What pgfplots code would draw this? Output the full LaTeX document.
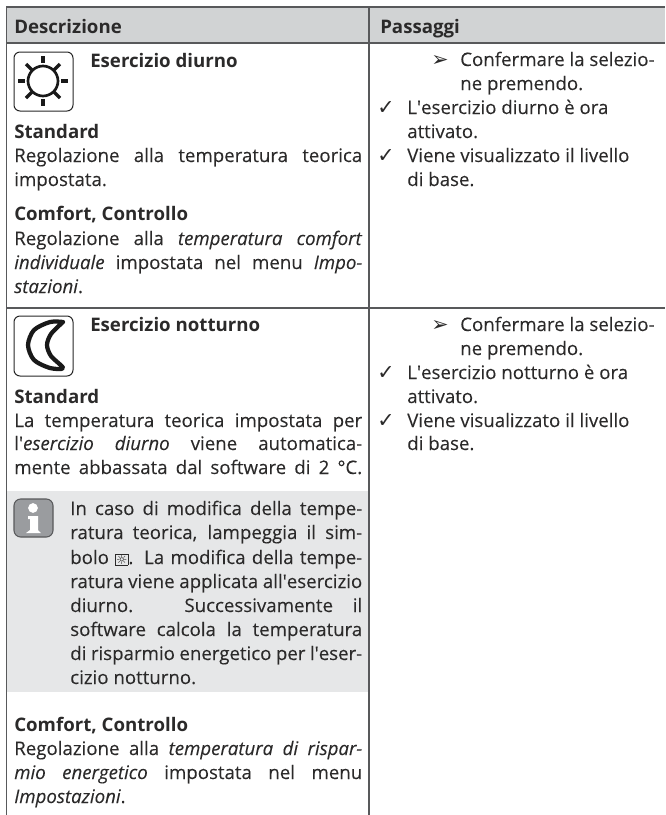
\documentclass[border=0pt]{standalone}
\usepackage{pgfplots}
\pgfplotsset{compat=1.18}
\usepackage{fontspec}
\setmainfont{Open Sans}[UprightFeatures={FakeBold=0.12},ItalicFeatures={FakeBold=0.12}]
\newfontfamily\sym{DejaVu Sans}
\newlength\px \setlength\px{0.75pt}
\definecolor{hdr}{HTML}{D1D3D4}
\definecolor{box}{HTML}{E6E7E8}
\definecolor{rule}{HTML}{58595B}
\definecolor{ink}{HTML}{2B2A2A}
\definecolor{ico}{HTML}{9A9C9F}
\newcommand\T[3]{\node[anchor=base west,inner sep=0pt,text=ink] at (axis cs:#1,#2) {#3};}
\newcommand\J[4]{\node[anchor=base west,inner sep=0pt,text=ink] at (axis cs:#1,#2) {\makebox[#3\px][s]{#4}};}
\newcommand\Q{\textquotesingle}
\newcommand\symb[1]{{\sym\fontsize{15.5pt}{16pt}\selectfont #1}}
\begin{document}
\fontsize{14pt}{16pt}\selectfont
\begin{tikzpicture}
\useasboundingbox (0,0) rectangle (498.75pt,611.25pt);
\begin{axis}[
  scale only axis, width=498.75pt, height=611.25pt,
  xmin=0,xmax=665,ymin=0,ymax=815,y dir=reverse,
  axis lines=none, clip=false]
% fills
\addplot[fill=hdr,draw=none] coordinates {(6,7)(665,7)(665,43)(6,43)} -- cycle;
\addplot[fill=box,draw=none] coordinates {(7,491)(368,491)(368,692)(7,692)} -- cycle;
% rules
\addplot[rule,line width=1pt] coordinates {(6,7)(665,7)};
\addplot[rule,line width=1pt] coordinates {(6,43)(665,43)};
\addplot[rule,line width=1pt] coordinates {(6,308)(665,308)};
\addplot[rule,line width=1pt] coordinates {(6.5,7)(6.5,815)};
\addplot[rule,line width=1pt] coordinates {(369,7)(369,815)};
% sun icon
\addplot[black!85,line width=0.75pt,rounded corners=4.5pt] coordinates {(14,52)(73,52)(73,111)(14,111)} -- cycle;
\draw[black!90,line width=2pt] (axis cs:43,81) circle[radius=11.25pt];
\addplot[black!90,line width=2.6pt] coordinates {(43,56)(43,63)};
\addplot[black!90,line width=2.6pt] coordinates {(43,99)(43,106)};
\addplot[black!90,line width=2.6pt] coordinates {(18,81)(25,81)};
\addplot[black!90,line width=2.6pt] coordinates {(61,81)(68,81)};
\addplot[black!90,line width=2.6pt] coordinates {(26,64)(32,70)};
\addplot[black!90,line width=2.6pt] coordinates {(60,64)(54,70)};
\addplot[black!90,line width=2.6pt] coordinates {(26,98)(32,92)};
\addplot[black!90,line width=2.6pt] coordinates {(60,98)(54,92)};
% moon icon
\addplot[black!85,line width=0.75pt,rounded corners=4.5pt] coordinates {(14,316)(73,316)(73,376)(14,376)} -- cycle;
\addplot[black!90,line width=3.2pt,smooth,tension=0.5,line join=round,line cap=round] coordinates {(63,322)(50,322)(34,330)(28,345)(34,360)(50,368)(63,368)(51,356)(47,345)(51,334)(63,322)};
% info icon
\addplot[fill=ico,draw=rule,line width=0.8pt,rounded corners=5pt] coordinates {(14,499)(53,499)(53,537)(14,537)} -- cycle;
\addplot[white,only marks,mark=*,mark size=3.4pt,mark options={draw=white,fill=white}] coordinates {(33,508)};
\addplot[fill=white,draw=none] coordinates {(28,516)(38,516)(38,530)(41,533)(26,533)(30,530)(30,519)(28,519)} -- cycle;
% left column
\T{14}{33}{\bfseries Descrizione}
\T{90}{67}{\bfseries Esercizio diurno}
\T{14}{138}{\bfseries Standard}
\J{14}{162}{348}{Regolazione alla temperatura teorica}
\T{14}{186}{impostata.}
\T{14}{220}{\bfseries Comfort, Controllo}
\J{14}{245}{348}{Regolazione alla \textit{temperatura comfort}}
\J{14}{269}{348}{\textit{individuale} impostata nel menu \textit{Impo-}}
\T{14}{293}{\textit{stazioni}.}
\T{90}{331}{\bfseries Esercizio notturno}
\T{14}{403}{\bfseries Standard}
\J{14}{427}{348}{La temperatura teorica impostata per}
\J{14}{450}{348}{l\Q\textit{esercizio diurno} viene automatica-}
\J{14}{474}{348}{mente abbassata dal software di 2 °C.}
\J{70}{515}{292}{In caso di modifica della tempe-}
\J{70}{539}{292}{ratura teorica, lampeggia il sim-}
\J{70}{564}{292}{bolo {\setlength\fboxsep{0.3pt}\setlength\fboxrule{0.4pt}\sym\fontsize{9.5pt}{9.5pt}\selectfont\raisebox{-0.3pt}{\fbox{☼}}}. La modifica della tempe-}
\J{70}{588}{292}{ratura viene applicata all\Q esercizio}
\J{70}{612}{292}{diurno. Successivamente il}
\J{70}{636}{292}{software calcola la temperatura}
\J{70}{660}{292}{di risparmio energetico per l\Q eser-}
\T{70}{684}{cizio notturno.}
\T{14}{731}{\bfseries Comfort, Controllo}
\J{14}{755}{348}{Regolazione alla \textit{temperatura di rispar-}}
\J{14}{779}{348}{\textit{mio energetico} impostata nel menu}
\T{14}{803}{\textit{Impostazioni}.}
% right column
\T{380}{33}{\bfseries Passaggi}
\T{431}{66}{\symb{➢}}
\T{460}{66}{Confermare la selezio-}
\T{460}{90}{ne premendo.}
\T{377}{114}{\symb{✓}}
\T{407}{114}{L\Q esercizio diurno è ora}
\T{407}{138}{attivato.}
\T{377}{162}{\symb{✓}}
\T{407}{162}{Viene visualizzato il livello}
\T{407}{186}{di base.}
\T{431}{331}{\symb{➢}}
\T{460}{331}{Confermare la selezio-}
\T{460}{355}{ne premendo.}
\T{377}{379}{\symb{✓}}
\T{407}{379}{L\Q esercizio notturno è ora}
\T{407}{403}{attivato.}
\T{377}{427}{\symb{✓}}
\T{407}{427}{Viene visualizzato il livello}
\T{407}{450}{di base.}
\end{axis}
\end{tikzpicture}
\end{document}
